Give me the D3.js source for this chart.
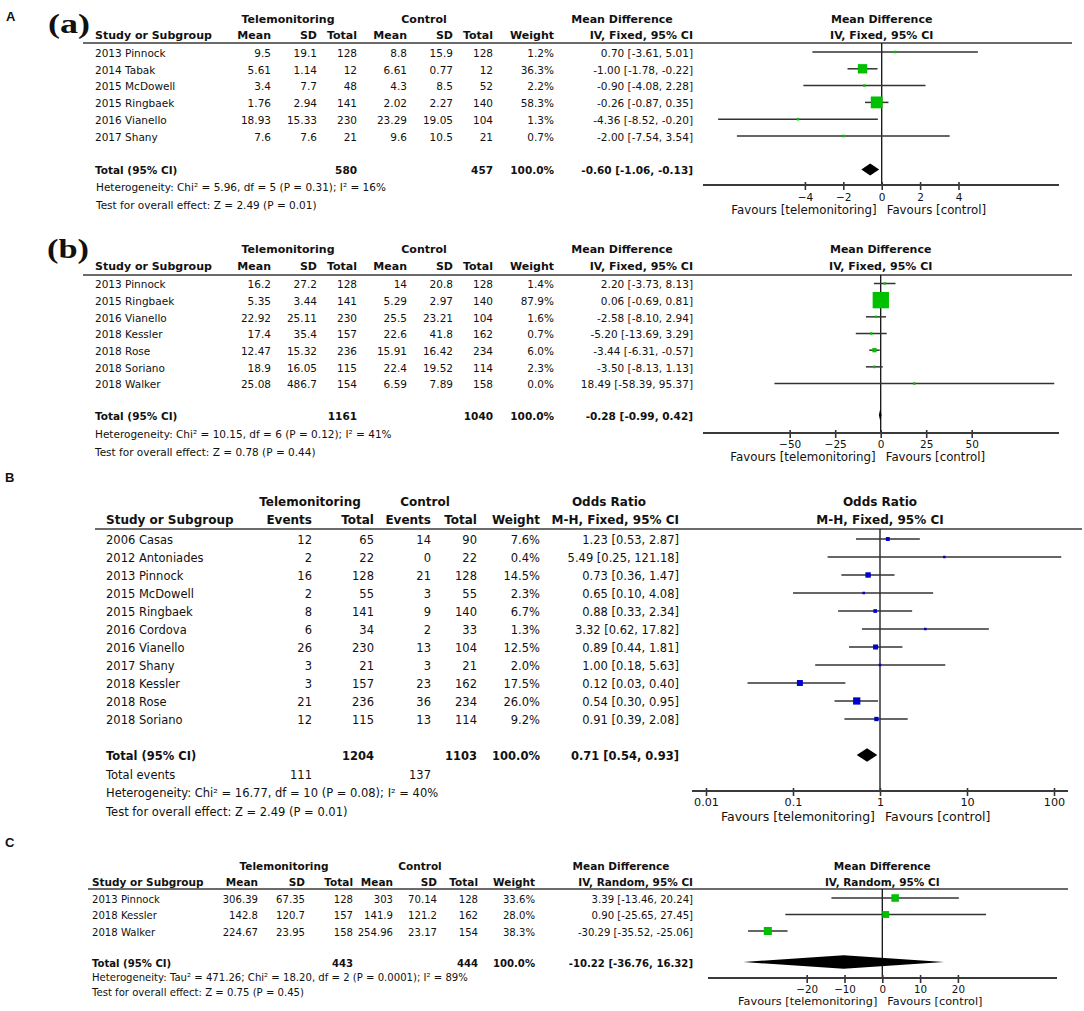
<!DOCTYPE html>
<html>
<head>
<meta charset="utf-8">
<title>Telemonitoring forest plots</title>
<script src="https://cdn.jsdelivr.net/npm/d3@7"></script>
<style>
  body { margin:0; background:#fff; }
  svg { display:block; }
  text { font-family:"DejaVu Sans", Verdana, sans-serif; fill:#111; }
</style>
</head>
<body>
<div id="fig"></div>
<script>
// ---------- A (a) ----------
var aStudy    = ["2013 Pinnock","2014 Tabak","2015 McDowell","2015 Ringbaek","2016 Vianello","2017 Shany"];
var aTeleMean = [9.5, 5.61, 3.4, 1.76, 18.93, 7.6];
var aTeleSD   = [19.1, 1.14, 7.7, 2.94, 15.33, 7.6];
var aTeleN    = [128, 12, 48, 141, 230, 21];
var aCtrlMean = [8.8, 6.61, 4.3, 2.02, 23.29, 9.6];
var aCtrlSD   = [15.9, 0.77, 8.5, 2.27, 19.05, 10.5];
var aCtrlN    = [128, 12, 52, 140, 104, 21];
var aWeight   = [1.2, 36.3, 2.2, 58.3, 1.3, 0.7];
var aMD       = [0.70, -1.00, -0.90, -0.26, -4.36, -2.00];
var aLo       = [-3.61, -1.78, -4.08, -0.87, -8.52, -7.54];
var aHi       = [5.01, -0.22, 2.28, 0.35, -0.20, 3.54];
var aTotalN   = [580, 457];
var aTotalCI  = [-0.60, -1.06, -0.13];
var aTicks    = [-4, -2, 0, 2, 4];
var aStats    = ["Heterogeneity: Chi² = 5.96, df = 5 (P = 0.31); I² = 16%",
                 "Test for overall effect: Z = 2.49 (P = 0.01)"];

// ---------- A (b) ----------
var bStudy    = ["2013 Pinnock","2015 Ringbaek","2016 Vianello","2018 Kessler","2018 Rose","2018 Soriano","2018 Walker"];
var bTeleMean = [16.2, 5.35, 22.92, 17.4, 12.47, 18.9, 25.08];
var bTeleSD   = [27.2, 3.44, 25.11, 35.4, 15.32, 16.05, 486.7];
var bTeleN    = [128, 141, 230, 157, 236, 115, 154];
var bCtrlMean = [14, 5.29, 25.5, 22.6, 15.91, 22.4, 6.59];
var bCtrlSD   = [20.8, 2.97, 23.21, 41.8, 16.42, 19.52, 7.89];
var bCtrlN    = [128, 140, 104, 162, 234, 114, 158];
var bWeight   = [1.4, 87.9, 1.6, 0.7, 6.0, 2.3, 0.0];
var bMD       = [2.20, 0.06, -2.58, -5.20, -3.44, -3.50, 18.49];
var bLo       = [-3.73, -0.69, -8.10, -13.69, -6.31, -8.13, -58.39];
var bHi       = [8.13, 0.81, 2.94, 3.29, -0.57, 1.13, 95.37];
var bTotalN   = [1161, 1040];
var bTotalCI  = [-0.28, -0.99, 0.42];
var bTicks    = [-50, -25, 0, 25, 50];
var bStats    = ["Heterogeneity: Chi² = 10.15, df = 6 (P = 0.12); I² = 41%",
                 "Test for overall effect: Z = 0.78 (P = 0.44)"];

// ---------- B (odds ratio) ----------
var oStudy     = ["2006 Casas","2012 Antoniades","2013 Pinnock","2015 McDowell","2015 Ringbaek","2016 Cordova","2016 Vianello","2017 Shany","2018 Kessler","2018 Rose","2018 Soriano"];
var oTeleEv    = [12, 2, 16, 2, 8, 6, 26, 3, 3, 21, 12];
var oTeleN     = [65, 22, 128, 55, 141, 34, 230, 21, 157, 236, 115];
var oCtrlEv    = [14, 0, 21, 3, 9, 2, 13, 3, 23, 36, 13];
var oCtrlN     = [90, 22, 128, 55, 140, 33, 104, 21, 162, 234, 114];
var oWeight    = [7.6, 0.4, 14.5, 2.3, 6.7, 1.3, 12.5, 2.0, 17.5, 26.0, 9.2];
var oOR        = [1.23, 5.49, 0.73, 0.65, 0.88, 3.32, 0.89, 1.00, 0.12, 0.54, 0.91];
var oLo        = [0.53, 0.25, 0.36, 0.10, 0.33, 0.62, 0.44, 0.18, 0.03, 0.30, 0.39];
var oHi        = [2.87, 121.18, 1.47, 4.08, 2.34, 17.82, 1.81, 5.63, 0.40, 0.95, 2.08];
var oTotalN    = [1204, 1103];
var oTotalEv   = [111, 137];
var oTotalCI   = [0.71, 0.54, 0.93];
var oTicks     = [0.01, 0.1, 1, 10, 100];
var oStats     = ["Heterogeneity: Chi² = 16.77, df = 10 (P = 0.08); I² = 40%",
                  "Test for overall effect: Z = 2.49 (P = 0.01)"];

// ---------- C ----------
var cStudy    = ["2013 Pinnock","2018 Kessler","2018 Walker"];
var cTeleMean = [306.39, 142.8, 224.67];
var cTeleSD   = [67.35, 120.7, 23.95];
var cTeleN    = [128, 157, 158];
var cCtrlMean = [303, 141.9, 254.96];
var cCtrlSD   = [70.14, 121.2, 23.17];
var cCtrlN    = [128, 162, 154];
var cWeight   = [33.6, 28.0, 38.3];
var cMD       = [3.39, 0.90, -30.29];
var cLo       = [-13.46, -25.65, -35.52];
var cHi       = [20.24, 27.45, -25.06];
var cTotalN   = [443, 444];
var cTotalCI  = [-10.22, -36.76, 16.32];
var cTicks    = [-20, -10, 0, 10, 20];
var cStats    = ["Heterogeneity: Tau² = 471.26; Chi² = 18.20, df = 2 (P = 0.0001); I² = 89%",
                 "Test for overall effect: Z = 0.75 (P = 0.45)"];


var W = 1084, H = 1011;
var svg = d3.select("#fig").append("svg").attr("width",W).attr("height",H);

var f2 = function(v){ return v.toFixed(2); };
var ciText = function(e,l,h){ return f2(e)+" ["+f2(l)+", "+f2(h)+"]"; };
var pct = function(v){ return v.toFixed(1)+"%"; };

function contRows(st,m1,s1,n1,m2,s2,n2,w,e,l,h){
	return st.map(function(s,i){
		return [s, m1[i], s1[i], n1[i], m2[i], s2[i], n2[i], pct(w[i]), ciText(e[i],l[i],h[i])];
	});
}

function drawPanel(P, L){
	var g = svg.append("g");
	var x = P.x, zero = x(P.nullValue);
	var rowY = function(i){ return L.y0 + i*L.dy; };

	// header
	var hd = g.append("g").style("font-weight","bold").style("font-size",L.head+"px");
	hd.selectAll(".grp").data(P.groups).enter().append("text")
		.attr("x",function(d,i){ return L.groupX[i]; })
		.attr("y",L.yHead1).attr("text-anchor","middle")
		.text(function(d){ return d; });
	hd.append("text").attr("x",L.xStudy).attr("y",L.yHead2).text("Study or Subgroup");
	hd.selectAll(".col").data(P.colHeads).enter().append("text")
		.attr("x",function(d,i){ return L.colX[i]; })
		.attr("y",L.yHead2).attr("text-anchor","end")
		.text(function(d){ return d; });
	hd.selectAll(".ph").data(P.plotHead).enter().append("text")
		.attr("x",zero)
		.attr("y",function(d,i){ return i ? L.yHead2 : L.yHead1; })
		.attr("text-anchor","middle")
		.text(function(d){ return d; });

	g.append("line")
		.attr("x1",L.line[0]).attr("x2",L.line[1])
		.attr("y1",L.yLine).attr("y2",L.yLine)
		.style("stroke","#3a3a3a").style("stroke-width",1.7);

	// table
	var body = g.append("g").style("font-size",L.font+"px");
	function row(cells, y, bold){
		var items = cells.map(function(t,j){
			return {t:String(t), x: j ? L.colX[j-1] : L.xStudy, a: j ? "end" : "start"};
		}).filter(function(d){ return d.t !== ""; });
		body.append("g").style("font-weight", bold ? "bold" : "normal")
			.selectAll("text").data(items).enter().append("text")
			.attr("x",function(d){ return d.x; })
			.attr("y",y)
			.attr("text-anchor",function(d){ return d.a; })
			.text(function(d){ return d.t; });
	}
	P.rows.forEach(function(c,i){ row(c, rowY(i)+L.base, false); });
	row(P.total, L.yTotal+L.base, true);
	if (P.extra) row(P.extra, L.yExtra, false);

	body.selectAll(".stat").data(P.stats).enter().append("text")
		.attr("x",L.statsX)
		.attr("y",function(d,i){ return L.statsY[i]; })
		.text(function(d){ return d; });

	// forest plot
	var plot = g.append("g");

	plot.append("line")
		.attr("x1",zero).attr("x2",zero)
		.attr("y1",L.yLine).attr("y2",L.axisY)
		.style("stroke","#111").style("stroke-width",1.3);

	plot.selectAll(".ci").data(P.est).enter().append("line")
		.attr("x1",function(d,i){ return x(P.lo[i]); })
		.attr("x2",function(d,i){ return x(P.hi[i]); })
		.attr("y1",function(d,i){ return rowY(i); })
		.attr("y2",function(d,i){ return rowY(i); })
		.style("stroke","#333").style("stroke-width",1.5);

	var side = function(i){ return Math.max(2.5, L.k*Math.sqrt(P.w[i])); };
	plot.selectAll(".box").data(P.est).enter().append("rect")
		.attr("x",function(d,i){ return x(d) - side(i)/2; })
		.attr("y",function(d,i){ return rowY(i) - side(i)/2; })
		.attr("width",function(d,i){ return side(i); })
		.attr("height",function(d,i){ return side(i); })
		.style("fill",L.color);

	var t = P.totalCI, cy = L.yTotal;
	var diamond = d3.line().x(function(d){ return x(d[0]); }).y(function(d){ return cy + d[1]; });
	plot.append("path")
		.attr("d", diamond([[t[1],0],[t[0],-L.dh],[t[2],0],[t[0],L.dh]]) + "Z")
		.style("fill","#000");

	// axis
	var ax = plot.append("g").attr("transform","translate(0,"+L.axisY+")")
		.call(d3.axisBottom(x).tickValues(P.ticks).tickFormat(d3.format("~g")).tickSizeOuter(0));
	ax.select(".domain").remove();
	ax.selectAll(".tick line").attr("y1",-3).attr("y2",5)
		.style("stroke","#333").style("stroke-width",1.6);
	ax.selectAll(".tick text").attr("y",L.tickDy).attr("dy",null)
		.style("font-size",L.tickFont+"px");

	plot.append("line")
		.attr("x1",L.axisLine[0]).attr("x2",L.axisLine[1])
		.attr("y1",L.axisY).attr("y2",L.axisY)
		.style("stroke","#3a3a3a").style("stroke-width",1.8);

	var fav = plot.append("g").style("font-size",L.favFont+"px");
	fav.append("text").attr("x",zero-5).attr("y",L.axisY+L.favDy)
		.attr("text-anchor","end").text("Favours [telemonitoring]");
	fav.append("text").attr("x",zero+5).attr("y",L.axisY+L.favDy)
		.attr("text-anchor","start").text("Favours [control]");
}

var contHeads = ["Mean","SD","Total","Mean","SD","Total","Weight"];

// A (a)
drawPanel({
	groups:["Telemonitoring","Control","Mean Difference"],
	colHeads: contHeads.concat(["IV, Fixed, 95% CI"]),
	plotHead:["Mean Difference","IV, Fixed, 95% CI"],
	rows: contRows(aStudy,aTeleMean,aTeleSD,aTeleN,aCtrlMean,aCtrlSD,aCtrlN,aWeight,aMD,aLo,aHi),
	total:["Total (95% CI)","","",aTotalN[0],"","",aTotalN[1],"100.0%",ciText(aTotalCI[0],aTotalCI[1],aTotalCI[2])],
	stats:aStats,
	est:aMD, lo:aLo, hi:aHi, w:aWeight, totalCI:aTotalCI, ticks:aTicks,
	x: d3.scaleLinear().domain([-10,10]).range([689.7,1073.7]), nullValue:0
},{
	font:10.5, head:11, tickFont:10.5, favFont:11.8,
	xStudy:95, colX:[271,317,357,407,453,493,554,693], groupX:[288,424,622],
	yHead1:23, yHead2:39, yLine:43, line:[83,1072],
	y0:52, dy:16.8, base:4.8, yTotal:169.5,
	statsX:96, statsY:[191,209],
	axisY:185, axisLine:[703,1059], tickDy:16, favDy:29,
	k:1.55, color:"#00c000", dh:6
});

// A (b)
drawPanel({
	groups:["Telemonitoring","Control","Mean Difference"],
	colHeads: contHeads.concat(["IV, Fixed, 95% CI"]),
	plotHead:["Mean Difference","IV, Fixed, 95% CI"],
	rows: contRows(bStudy,bTeleMean,bTeleSD,bTeleN,bCtrlMean,bCtrlSD,bCtrlN,bWeight,bMD,bLo,bHi),
	total:["Total (95% CI)","","",bTotalN[0],"","",bTotalN[1],"100.0%",ciText(bTotalCI[0],bTotalCI[1],bTotalCI[2])],
	stats:bStats,
	est:bMD, lo:bLo, hi:bHi, w:bWeight, totalCI:bTotalCI, ticks:bTicks,
	x: d3.scaleLinear().domain([-100,100]).range([698.7,1062.7]), nullValue:0
},{
	font:10.5, head:11, tickFont:10.5, favFont:11.8,
	xStudy:95, colX:[271,317,357,407,453,493,554,693], groupX:[288,424,622],
	yHead1:253, yHead2:270, yLine:275, line:[83,1072],
	y0:283.5, dy:16.67, base:4.8, yTotal:415,
	statsX:95, statsY:[438,456],
	axisY:433, axisLine:[703,1059], tickDy:15, favDy:28,
	k:1.74, color:"#00c000", dh:6
});

// B
drawPanel({
	groups:["Telemonitoring","Control","Odds Ratio"],
	colHeads:["Events","Total","Events","Total","Weight","M-H, Fixed, 95% CI"],
	plotHead:["Odds Ratio","M-H, Fixed, 95% CI"],
	rows: oStudy.map(function(s,i){
		return [s, oTeleEv[i], oTeleN[i], oCtrlEv[i], oCtrlN[i], pct(oWeight[i]), ciText(oOR[i],oLo[i],oHi[i])];
	}),
	total:["Total (95% CI)","",oTotalN[0],"",oTotalN[1],"100.0%",ciText(oTotalCI[0],oTotalCI[1],oTotalCI[2])],
	extra:["Total events",oTotalEv[0],"",oTotalEv[1],"","",""],
	stats:oStats,
	est:oOR, lo:oLo, hi:oHi, w:oWeight, totalCI:oTotalCI, ticks:oTicks,
	x: d3.scaleLog().domain([0.01,100]).range([706,1054]), nullValue:1
},{
	font:11.5, head:12, tickFont:11.2, favFont:12.5,
	xStudy:106, colX:[312,374,431,477,540,679], groupX:[310,425,609],
	yHead1:506, yHead2:524, yLine:529, line:[95,1082],
	y0:539, dy:18, base:5, yTotal:755, yExtra:779,
	statsX:106, statsY:[797,816],
	axisY:791, axisLine:[692,1068], tickDy:15, favDy:30,
	k:1.42, color:"#0000cc", dh:6.7
});

// C
drawPanel({
	groups:["Telemonitoring","Control","Mean Difference"],
	colHeads: contHeads.concat(["IV, Random, 95% CI"]),
	plotHead:["Mean Difference","IV, Random, 95% CI"],
	rows: contRows(cStudy,cTeleMean,cTeleSD,cTeleN,cCtrlMean,cCtrlSD,cCtrlN,cWeight,cMD,cLo,cHi),
	total:["Total (95% CI)","","",cTotalN[0],"","",cTotalN[1],"100.0%",ciText(cTotalCI[0],cTotalCI[1],cTotalCI[2])],
	stats:cStats,
	est:cMD, lo:cLo, hi:cHi, w:cWeight, totalCI:cTotalCI, ticks:cTicks,
	x: d3.scaleLinear().domain([-50,50]).range([693.3,1071.3]), nullValue:0
},{
	font:10.1, head:10.5, tickFont:10.3, favFont:11.3,
	xStudy:92, colX:[258,305,353,393,437,478,535,693], groupX:[284,420,621],
	yHead1:870, yHead2:886, yLine:889, line:[88,1068],
	y0:898, dy:16.5, base:4.8, yTotal:962,
	statsX:92, statsY:[981,996],
	axisY:978, axisLine:[708,1057], tickDy:15, favDy:27,
	k:1.3, color:"#00c000", dh:6.7
});

// panel letters
var lab = svg.append("g");
lab.selectAll("text").data([["A",6,20.5],["B",5,482],["C",5,847]]).enter().append("text")
	.attr("x",function(d){ return d[1]; }).attr("y",function(d){ return d[2]; })
	.style("font-family","'Liberation Sans', Arial, sans-serif")
	.style("font-weight","bold").style("font-size","13px")
	.text(function(d){ return d[0]; });

var sub = svg.append("g");
sub.selectAll("text").data([["(a)",48,33],["(b)",47,258]]).enter().append("text")
	.attr("x",function(d){ return d[1]; }).attr("y",function(d){ return d[2]; })
	.attr("textLength",42).attr("lengthAdjust","spacingAndGlyphs")
	.style("font-family","'Liberation Serif', 'Times New Roman', serif")
	.style("font-weight","bold").style("font-size","28px")
	.text(function(d){ return d[0]; });
</script>
</body>
</html>
